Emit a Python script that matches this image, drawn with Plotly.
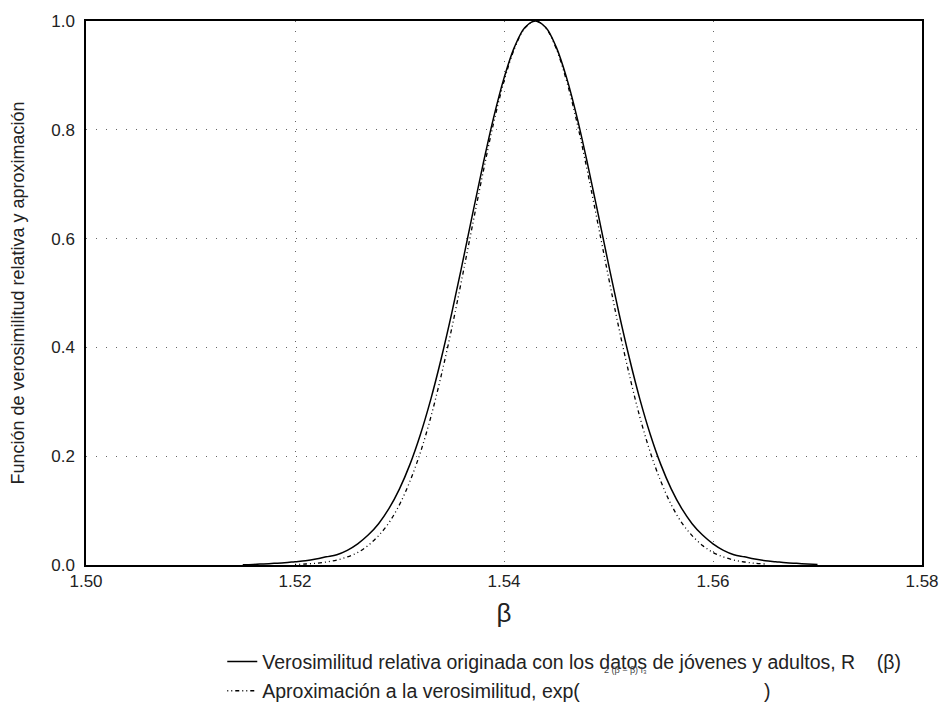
import plotly.graph_objects as go

beta_rel = [1.515, 1.516, 1.517, 1.518, 1.519, 1.520, 1.521, 1.522, 1.523, 1.524,
            1.525, 1.526, 1.527, 1.528, 1.529, 1.530, 1.531, 1.532, 1.533, 1.534,
            1.535, 1.536, 1.537, 1.538, 1.539, 1.540, 1.541, 1.542, 1.543, 1.544,
            1.545, 1.546, 1.547, 1.548, 1.549, 1.550, 1.551, 1.552, 1.553, 1.554,
            1.555, 1.556, 1.557, 1.558, 1.559, 1.560, 1.561, 1.562, 1.563, 1.564,
            1.565, 1.566, 1.567, 1.568, 1.569, 1.570]
r_rel = [0.0005, 0.001, 0.002, 0.003, 0.004, 0.006, 0.008, 0.011, 0.015, 0.019,
         0.027, 0.039, 0.055, 0.076, 0.104, 0.140, 0.185, 0.240, 0.305, 0.380,
         0.463, 0.553, 0.646, 0.737, 0.822, 0.895, 0.952, 0.988, 1.000, 0.988,
         0.952, 0.895, 0.822, 0.737, 0.646, 0.553, 0.463, 0.380, 0.305, 0.240,
         0.185, 0.140, 0.104, 0.076, 0.055, 0.039, 0.027, 0.019, 0.015, 0.011,
         0.008, 0.006, 0.004, 0.003, 0.002, 0.001]

beta_apx = [1.520, 1.521, 1.522, 1.523, 1.524, 1.525, 1.526, 1.527, 1.528, 1.529,
            1.530, 1.531, 1.532, 1.533, 1.534, 1.535, 1.536, 1.537, 1.538, 1.539,
            1.540, 1.541, 1.542, 1.543, 1.544, 1.545, 1.546, 1.547, 1.548, 1.549,
            1.550, 1.551, 1.552, 1.553, 1.554, 1.555, 1.556, 1.557, 1.558, 1.559,
            1.560, 1.561, 1.562, 1.563, 1.564, 1.565]
r_apx = [0.001, 0.0018, 0.0032, 0.0055, 0.0091, 0.0148, 0.023, 0.036, 0.054, 0.078,
         0.111, 0.154, 0.207, 0.272, 0.349, 0.435, 0.529, 0.626, 0.722, 0.812,
         0.889, 0.949, 0.987, 1.000, 0.987, 0.949, 0.889, 0.812, 0.722, 0.626,
         0.529, 0.435, 0.349, 0.272, 0.207, 0.154, 0.111, 0.078, 0.054, 0.036,
         0.023, 0.0148, 0.0091, 0.0055, 0.0032, 0.0018]

x_ticks = [1.50, 1.52, 1.54, 1.56, 1.58]
x_tick_labels = ["1.50", "1.52", "1.54", "1.56", "1.58"]
y_ticks = [0.0, 0.2, 0.4, 0.6, 0.8, 1.0]
y_tick_labels = ["0.0", "0.2", "0.4", "0.6", "0.8", "1.0"]

name_rel = "Verosimilitud relativa originada con los datos de jóvenes y adultos, R    (β)"
name_apx = "Aproximación a la verosimilitud, exp(                                  )"

FONT = "Liberation Sans, Arial, sans-serif"

fig = go.Figure()
fig.add_trace(go.Scatter(x=beta_rel, y=r_rel, mode="lines", name=name_rel,
                         legendgroup="a",
                         line=dict(color="black", width=1.5, shape="spline")))
fig.add_trace(go.Scatter(x=beta_apx, y=r_apx, mode="lines", name=name_apx,
                         legendgroup="b",
                         line=dict(color="black", width=1.3, shape="spline",
                                   dash="1px,3px,1px,3px,4px,3px")))

fig.update_layout(
    width=940, height=700,
    margin=dict(l=78, r=26, t=13, b=143, autoexpand=False),
    paper_bgcolor="white", plot_bgcolor="white",
    font=dict(family=FONT, size=14, color="#222"),
    showlegend=True,
    legend=dict(x=0.163, y=-0.142, xanchor="left", yanchor="top",
                font=dict(family=FONT, size=19.5, color="#222"),
                tracegroupgap=1, bgcolor="rgba(0,0,0,0)",
                itemwidth=30),
    xaxis=dict(range=[1.50, 1.58], tickvals=x_ticks, ticktext=x_tick_labels,
               showline=True, linecolor="black", linewidth=1.5, mirror=True,
               showgrid=True, gridcolor="#666", gridwidth=1, griddash="1px,9px",
               zeroline=False, ticks="", tickfont=dict(size=17), automargin=False,
               title=dict(text="β", font=dict(size=26, color="#222"), standoff=14)),
    yaxis=dict(range=[0.0, 1.0], tickvals=y_ticks, ticktext=y_tick_labels,
               showline=True, linecolor="black", linewidth=1.5, mirror=True,
               showgrid=True, gridcolor="#666", gridwidth=1, griddash="1px,9px",
               zeroline=False, ticks="", tickfont=dict(size=17), automargin=False,
               ticklabelstandoff=6,
               title=dict(text="Función de verosimilitud relativa y aproximación",
                          font=dict(size=18, color="#222"), standoff=22)),
)

fig.add_annotation(x=0.645, y=-0.206, xref="paper", yref="paper",
                   text="2 (β − β) I₃", showarrow=False,
                   font=dict(family=FONT, size=9, color="#444"))

fig.write_html("out.html")
